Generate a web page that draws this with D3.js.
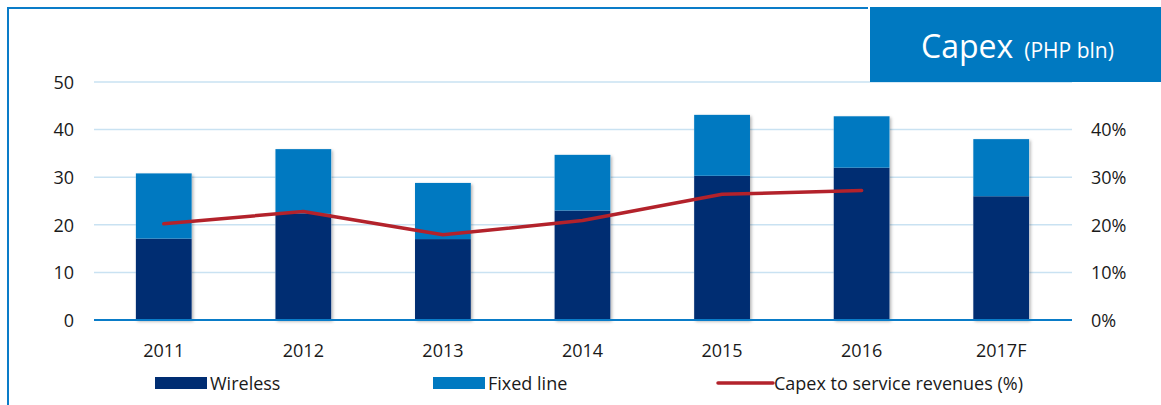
<!DOCTYPE html>
<html><head><meta charset="utf-8">
<script src="https://cdn.jsdelivr.net/npm/d3@7"></script>
<style>
html,body{margin:0;padding:0;background:#fff;}
svg{display:block;}
text{font-family:"Open Sans",sans-serif;fill:#1a1a1a;}
</style></head>
<body><svg id="c" width="1161" height="405"></svg>
<script>
const years = ["2011","2012","2013","2014","2015","2016","2017F"];
const wireless = [17.1, 22.3, 17.0, 23.0, 30.3, 32.0, 26.0];
const fixedLine = [13.7, 13.6, 11.8, 11.7, 12.8, 10.8, 12.0];
const capexRatio = [0.202, 0.228, 0.179, 0.209, 0.264, 0.272, null];
const leftTicks = [0,10,20,30,40,50];
const rightTicks = [0,0.1,0.2,0.3,0.4];
const seriesNames = ["Wireless","Fixed line","Capex to service revenues (%)"];

const C = {wireless:"#002d72", fixed:"#0079c1", line:"#b3222b", frame:"#0a7cc8", grid:"#c9e2f2", axis:"#0a7cc8"};
const svg = d3.select("#c");

const defs = svg.append("defs");
const f = defs.append("filter").attr("id","sh").attr("x","-20%").attr("y","-5%").attr("width","140%").attr("height","115%");
f.append("feDropShadow").attr("dx",1.5).attr("dy",1.5).attr("stdDeviation",1.5).attr("flood-color","#000").attr("flood-opacity",0.3);

const x = d3.scaleBand().domain(years).range([94,1071]).paddingInner(0.6).paddingOuter(0.3);
const y = d3.scaleLinear().domain([0,50]).range([320,82]);
const yR = d3.scaleLinear().domain([0,0.5]).range([320,82]);

// frame
svg.append("path").attr("d","M8,405 V8 H868").attr("fill","none").attr("stroke",C.frame).attr("stroke-width",2);

// grid
svg.append("g").selectAll("line").data(leftTicks.filter(d=>d>0)).join("line")
  .attr("x1",94).attr("x2",1072).attr("y1",d=>y(d)).attr("y2",d=>y(d))
  .attr("stroke",C.grid).attr("stroke-width",1.5);

// left axis
const gL = svg.append("g").attr("transform","translate(74,0)")
  .call(d3.axisLeft(y).tickValues(leftTicks).tickSize(0).tickPadding(0));
gL.select(".domain").remove();
gL.selectAll("text").style("font-size","18px").style("font-family","Open Sans").attr("fill","#1a1a1a").attr("dy","0.35em");

// right axis
const gR = svg.append("g").attr("transform","translate(1091,0)")
  .call(d3.axisRight(yR).tickValues(rightTicks).tickFormat(d3.format(".0%")).tickSize(0).tickPadding(0));
gR.select(".domain").remove();
gR.selectAll("text").style("font-size","18px").style("font-family","Open Sans").attr("fill","#1a1a1a").attr("dy","0.35em");

// bars
const stackData = years.map((yr,i)=>({year:yr, wireless:wireless[i], fixed:fixedLine[i]}));
const stack = d3.stack().keys(["wireless","fixed"])(stackData);
const cols = [C.wireless, C.fixed];
const gb = svg.append("g");
gb.selectAll("rect.sh").data(stackData).join("rect")
  .attr("x",d=>x(d.year)).attr("width",x.bandwidth())
  .attr("y",d=>y(d.wireless+d.fixed)).attr("height",d=>y(0)-y(d.wireless+d.fixed))
  .attr("fill","#fff").attr("filter","url(#sh)");
stack.forEach((s,k)=>{
  gb.append("g").selectAll("rect").data(s).join("rect")
    .attr("x",d=>x(d.data.year)).attr("width",x.bandwidth())
    .attr("y",d=>y(d[1])).attr("height",d=>y(d[0])-y(d[1]))
    .attr("fill",cols[k]);
});

// baseline
svg.append("line").attr("x1",94).attr("x2",1072).attr("y1",y(0)).attr("y2",y(0)).attr("stroke",C.axis).attr("stroke-width",2);

// line
const lineData = years.map((yr,i)=>({year:yr,v:capexRatio[i]})).filter(d=>d.v!=null);
svg.append("path").datum(lineData)
  .attr("d", d3.line().x(d=>x(d.year)+x.bandwidth()/2).y(d=>yR(d.v)))
  .attr("fill","none").attr("stroke",C.line).attr("stroke-width",3.5).attr("stroke-linecap","round").attr("stroke-linejoin","round");

// x axis labels
const gX = svg.append("g").attr("transform",`translate(0,${y(0)})`)
  .call(d3.axisBottom(x).tickSize(0).tickPadding(0));
gX.select(".domain").remove();
gX.selectAll("text").style("font-size","18px").style("font-family","Open Sans").attr("fill","#1a1a1a").attr("dy","0").attr("y",37);

// legend
const leg = svg.append("g");
const items = [
  {name:seriesNames[0], x:155, type:"rect", color:C.wireless},
  {name:seriesNames[1], x:433, type:"rect", color:C.fixed},
  {name:seriesNames[2], x:718, type:"line", color:C.line}
];
items.forEach(it=>{
  if(it.type==="rect") leg.append("rect").attr("x",it.x).attr("y",377).attr("width",52).attr("height",12).attr("fill",it.color);
  else leg.append("line").attr("x1",it.x).attr("x2",it.x+55).attr("y1",383).attr("y2",383).attr("stroke",it.color).attr("stroke-width",3.5).attr("stroke-linecap","round");
  leg.append("text").attr("x",it.x+(it.type==="rect"?55:56)).attr("y",389.5)
    .style("font-family","'Open Sans',sans-serif").style("font-size","18px").text(it.name);
});

// title box
svg.append("rect").attr("x",870).attr("y",7).attr("width",291).attr("height",75).attr("fill","#0079c1");
const t = svg.append("text").attr("x",921).attr("y",58).style("fill","#fff");
t.append("tspan").style("font-size","32px").style("fill","#fff").text("Capex");
t.append("tspan").style("font-size","21px").style("fill","#fff").attr("dx",11).text("(PHP bln)");
</script></body></html>
